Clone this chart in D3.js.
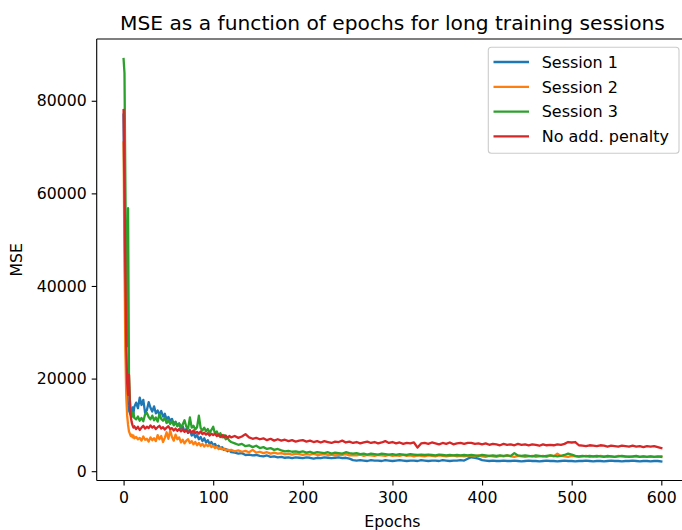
<!DOCTYPE html>
<html>
<head>
<meta charset="utf-8">
<script src="https://cdn.jsdelivr.net/npm/d3@7"></script>
<style>
  html, body { margin: 0; padding: 0; background: #ffffff; }
  svg { display: block; font-family: "DejaVu Sans", sans-serif; }
</style>
</head>
<body>
<svg id="chart" width="682" height="530"></svg>
<script>
// Epoch grid: every epoch at the start, then every 2, then every 4.
const epochs = [].concat(d3.range(0, 13), d3.range(14, 121, 2), d3.range(124, 601, 4));

// MSE per epoch for each training run.
const session1 = [
  77000, 56000, 36500, 22000, 16500, 14200, 13100, 12600, 12100, 12900, 13800, 12500, 13900,
  14800, 13600, 15900, 14300, 15400, 12600, 13200, 14900, 13700, 12900, 14000, 12500, 13100, 12200,
  13000, 11800, 12400, 11200, 11700, 10900, 11300, 10200, 10700, 9800, 10300, 9200, 9700, 8600,
  9100, 8300, 8900, 7700, 8200, 7300, 7800, 6900, 7400, 6500, 7100, 6200, 6700, 5900,
  6300, 5600, 5900, 5200, 5500, 4900, 5200, 4600, 4800, 4300, 4500, 4100,
  4000, 3800, 3900, 3500, 3600, 3400, 3500, 3300, 3200, 3400, 3100, 3200, 3000,
  3100, 2900, 3000, 2800, 3000, 2900, 2800, 3000, 2900, 2700, 2900, 2800, 3000, 2900, 2800, 2900, 3000, 2800, 2900, 2700,
  2400, 2300, 2400, 2300, 2200, 2400, 2300, 2300, 2200, 2400, 2300, 2200, 2300, 2400, 2300, 2200, 2300,
  2300, 2200, 2400, 2300, 2200, 2300, 2300, 2200, 2400, 2300, 2200, 2300, 2300, 2400, 2300, 2700,
  3000, 2900, 2700, 2400, 2300, 2200, 2300, 2200, 2200, 2300, 2200, 2200, 2300, 2200, 2100, 2200, 2300, 2200,
  2200, 2100, 2200, 2300, 2200, 2200, 2100, 2200, 2300, 2200, 2200, 2100, 2200, 2200, 2300, 2200, 2100, 2200,
  2200, 2100, 2200, 2300, 2200, 2200, 2100, 2200, 2200, 2300, 2200, 2100, 2200, 2200, 2100, 2200, 2200, 2100
];

const session2 = [
  71000, 45000, 26000, 16000, 12000, 10000, 8600, 8100, 7600, 7900, 7300, 7700, 7100,
  7400, 6900, 7200, 6600, 7500, 6800, 7000, 6400, 7300, 6700, 7100, 6500, 7800, 6900,
  7600, 6300, 7200, 8400, 7000, 8800, 7400, 6600, 7900, 6900, 7300, 6200, 6800, 6000,
  6600, 6900, 6100, 6500, 5800, 6300, 5600, 6100, 5500, 5900, 5300, 5800, 5400, 5700,
  5200, 5500, 5000, 5300, 4800, 5100, 4700, 4900, 4500, 4700, 4400, 4600,
  4300, 4500, 4200, 4400, 4100, 4600, 4000, 4200, 3900, 4100, 3800, 4000, 3800,
  3900, 3700, 3800, 3600, 3800, 3700, 3500, 3700, 3600, 3800, 3500, 3600, 3700, 3500, 3600, 3400, 3600, 3500, 3700, 3400,
  3500, 3400, 3600, 3300, 3500, 3400, 3300, 3500, 3400, 3300, 3500, 3300, 3400, 3300, 3500, 3300, 3400,
  3200, 3400, 3300, 3200, 3400, 3300, 3200, 3400, 3300, 3200, 3300, 3400, 3200, 3300, 3200, 3300,
  3300, 3200, 3400, 3200, 3100, 3300, 3200, 3100, 3300, 3200, 3400, 3200, 3100, 3300, 3200, 3100, 3200, 3300,
  3100, 3200, 3300, 3100, 3400, 3200, 3800, 3300, 3200, 3100, 3300, 3200, 3100, 3200, 3300, 3100, 3200, 3100,
  3300, 3200, 3100, 3200, 3100, 3300, 3200, 3100, 3200, 3100, 3200, 3100, 3200, 3100, 3200, 3100, 3100, 3200
];

const session3 = [
  89000, 86000, 62000, 38000, 27000, 56800, 21000, 15500, 13200, 12400, 11800, 12600, 11500,
  11200, 11800, 10900, 11500, 10800, 12300, 12600, 11700, 11200, 12000, 11000, 11600, 10700, 12300,
  11300, 10900, 11500, 10400, 11000, 10200, 10800, 9900, 10500, 9700, 10300, 9500, 10100, 11000,
  9600, 9200, 11600, 9400, 9800, 9000, 9500, 12000, 9300, 8800, 9400, 8600, 9100, 8300,
  8900, 9600, 8100, 8600, 7700, 8200, 7300, 7800, 6900, 7200, 6600, 6300,
  6000, 5700, 5900, 5400, 5600, 5200, 5500, 5000, 5200, 4800, 5000, 4600, 4800,
  4500, 4300, 4400, 4200, 4300, 4100, 4300, 4000, 4200, 3900, 4100, 4000, 3900, 4100, 3800, 4000, 3900, 3800, 4100, 3900,
  3800, 3900, 3700, 3800, 3600, 3800, 3700, 3600, 3800, 3700, 3600, 3700, 3500, 3700, 3600, 3500, 3700,
  3600, 3500, 3600, 3500, 3600, 3500, 3400, 3600, 3500, 3400, 3500, 3400, 3500, 3400, 3500, 3400,
  3500, 3400, 3300, 3500, 3400, 3300, 3400, 3300, 3400, 3300, 3400, 3300, 3900, 3400, 3300, 3400, 3300, 3200,
  3400, 3300, 3200, 3300, 3400, 3300, 3200, 3300, 3500, 3800, 3600, 3300, 3200, 3300, 3200, 3300, 3200, 3300,
  3200, 3100, 3300, 3200, 3100, 3200, 3300, 3200, 3100, 3200, 3300, 3100, 3200, 3100, 3200, 3100, 3200, 3100
];

const noPenalty = [
  78000, 60000, 42000, 27000, 19000, 16500, 20800, 14000, 11800, 10600, 9900, 9400, 9700,
  9100, 9600, 8900, 9400, 9800, 9200, 9600, 9300, 9900, 9400, 9700, 9100, 9500, 9800,
  9200, 9500, 9000, 9400, 9700, 9100, 9300, 8800, 9200, 8700, 9100, 8600, 9000, 8500,
  8900, 8300, 8700, 8400, 8800, 8200, 8500, 8100, 8600, 8000, 8300, 7900, 8200, 7700,
  8100, 7800, 8100, 7600, 7900, 7400, 7800, 7300, 7700, 7200, 7600, 7300,
  7600, 7200, 7500, 8000, 7300, 7000, 7200, 6900, 7100, 6700, 7000, 6600, 6900,
  6600, 6800, 6500, 6700, 6400, 6600, 6700, 6400, 6600, 6300, 6500, 6200, 6500, 6300, 6100, 6400, 6300, 6600, 6200, 6400,
  6100, 6300, 6000, 6200, 6400, 6100, 6300, 6000, 6200, 6500, 6100, 6300, 6000, 6200, 5900, 6100, 6000,
  6200, 5100, 6000, 6100, 5900, 6200, 6000, 5800, 6100, 5900, 6200, 5800, 6000, 6100, 5900, 6100,
  6100, 5900, 6000, 5800, 6000, 5700, 5900, 5800, 5600, 5900, 5700, 5800, 5600, 5900, 5700, 5800, 5600, 5800,
  5700, 5500, 5800, 5600, 5700, 5600, 5800, 5700, 5900, 6300, 6200, 6300, 5600, 5500, 5400, 5600, 5500, 5400,
  5600, 5500, 5300, 5500, 5400, 5300, 5500, 5400, 5300, 5500, 5300, 5400, 5200, 5400, 5300, 5400, 5200, 5000
];

const seriesNames = ["Session 1", "Session 2", "Session 3", "No add. penalty"];
const seriesValues = [session1, session2, session3, noPenalty];
const seriesColors = ["#1f77b4", "#ff7f0e", "#2ca02c", "#d62728"];

const xTicks = [0, 100, 200, 300, 400, 500, 600];
const yTicks = [0, 20000, 40000, 60000, 80000];

const titleText = "MSE as a function of epochs for long training sessions";
const xLabel = "Epochs";
const yLabel = "MSE";

seriesValues.forEach((vals, i) => {
  if (vals.length !== epochs.length) {
    throw new Error(seriesNames[i] + ": " + vals.length + " values for " + epochs.length + " epochs");
  }
});

// Plot area
const plot = { left: 96.7, right: 688.2, top: 39, bottom: 480.5 };

const x = d3.scaleLinear().domain([-30, 630]).range([plot.left, plot.right]);
const y = d3.scaleLinear().domain([-2010, 93340]).range([plot.bottom, plot.top]);

const svg = d3.select("#chart");
const tickFont = 15.7;
const legendFont = 16;
const lineWidth = 2.3;

// Series lines, first session at the bottom, baseline run on top
const line = d3.line().x(d => x(d[0])).y(d => y(d[1]));
const linesG = svg.append("g");
seriesValues.forEach((vals, i) => {
  linesG.append("path")
    .datum(epochs.map((e, k) => [e, vals[k]]))
    .attr("d", line)
    .attr("fill", "none")
    .attr("stroke", seriesColors[i])
    .attr("stroke-width", lineWidth)
    .attr("stroke-linejoin", "round")
    .attr("stroke-linecap", "square");
});

// Spines
const spines = svg.append("g").attr("stroke", "#000").attr("stroke-width", 1.1).attr("fill", "none");
spines.append("line").attr("x1", plot.left).attr("x2", plot.left).attr("y1", plot.top).attr("y2", plot.bottom);
spines.append("line").attr("x1", plot.left).attr("x2", plot.right).attr("y1", plot.bottom).attr("y2", plot.bottom);
spines.append("line").attr("x1", plot.left).attr("x2", plot.right).attr("y1", plot.top).attr("y2", plot.top);
spines.append("line").attr("x1", plot.right).attr("x2", plot.right).attr("y1", plot.top).attr("y2", plot.bottom);

// Axes
const xAxis = d3.axisBottom(x).tickValues(xTicks).tickFormat(d3.format("d"))
  .tickSize(5).tickPadding(6);
const yAxis = d3.axisLeft(y).tickValues(yTicks).tickFormat(d3.format("d"))
  .tickSize(5).tickPadding(5);

const gx = svg.append("g").attr("transform", `translate(0,${plot.bottom})`).call(xAxis);
const gy = svg.append("g").attr("transform", `translate(${plot.left},0)`).call(yAxis);
[gx, gy].forEach(g => {
  g.select(".domain").remove();
  g.selectAll(".tick line").attr("stroke", "#000").attr("stroke-width", 1.1);
  g.selectAll(".tick text")
    .attr("fill", "#000")
    .style("font-family", "'DejaVu Sans', sans-serif")
    .style("font-size", tickFont + "px");
});

// Title and axis labels
svg.append("text")
  .attr("x", (plot.left + plot.right) / 2)
  .attr("y", 30)
  .attr("text-anchor", "middle")
  .style("font-size", "20.2px")
  .attr("fill", "#000")
  .text(titleText);

svg.append("text")
  .attr("x", (plot.left + plot.right) / 2)
  .attr("y", 527)
  .attr("text-anchor", "middle")
  .style("font-size", tickFont + "px")
  .attr("fill", "#000")
  .text(xLabel);

svg.append("text")
  .attr("transform", `translate(22,${(plot.top + plot.bottom) / 2}) rotate(-90)`)
  .attr("text-anchor", "middle")
  .style("font-size", tickFont + "px")
  .attr("fill", "#000")
  .text(yLabel);

// Legend
const legend = { x: 488.3, y: 47.3, w: 190.7, h: 106, row0: 62, rowGap: 24.8 };
const lg = svg.append("g");
lg.append("rect")
  .attr("x", legend.x).attr("y", legend.y)
  .attr("width", legend.w).attr("height", legend.h)
  .attr("rx", 3).attr("ry", 3)
  .attr("fill", "#ffffff").attr("fill-opacity", 0.8)
  .attr("stroke", "#cccccc").attr("stroke-width", 1.1);

seriesNames.forEach((name, i) => {
  const cy = legend.row0 + i * legend.rowGap;
  lg.append("line")
    .attr("x1", 493.5).attr("x2", 529)
    .attr("y1", cy).attr("y2", cy)
    .attr("stroke", seriesColors[i]).attr("stroke-width", lineWidth);
  lg.append("text")
    .attr("x", 541.7).attr("y", cy)
    .attr("dy", "0.36em")
    .style("font-size", legendFont + "px")
    .attr("fill", "#000")
    .text(name);
});
</script>
</body>
</html>
